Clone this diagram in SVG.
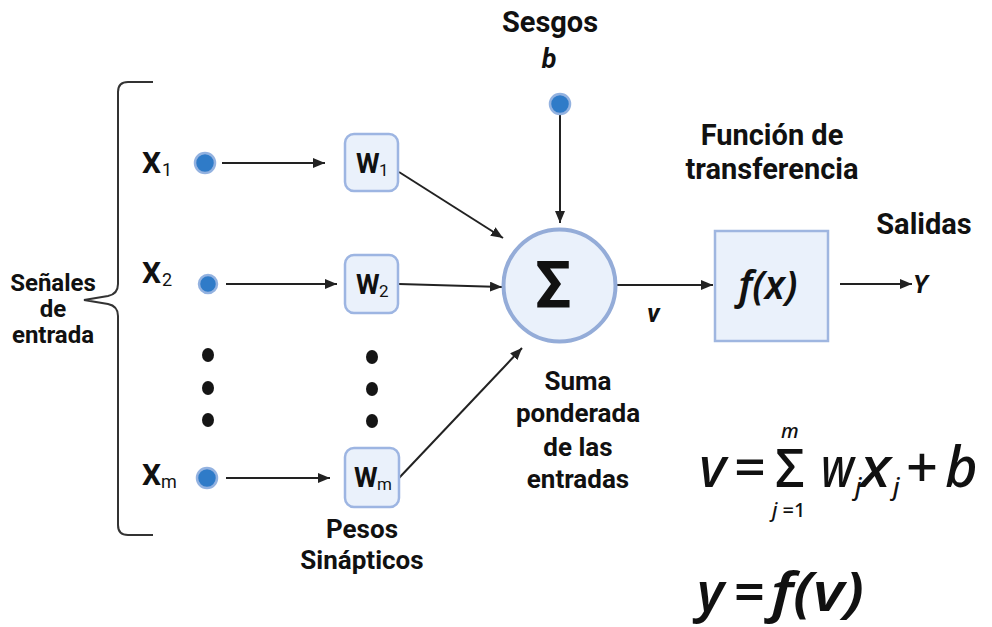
<svg xmlns="http://www.w3.org/2000/svg" width="992" height="627" viewBox="0 0 992 627">
<style>
.lbl{font-family:Roboto,"Liberation Sans",sans-serif;font-weight:700;fill:#111}
.sub{font-family:Roboto,"Liberation Sans",sans-serif;font-weight:400;fill:#111}
.math{font-family:"Noto Sans","Open Sans","DejaVu Sans",sans-serif;font-style:italic;font-weight:500;fill:#111}
.heavy{font-family:"Noto Sans","Open Sans","DejaVu Sans",sans-serif;font-style:italic;font-weight:600;fill:#111}
.up{font-style:normal}
.box{fill:#eaf1fb;stroke:#9db5e2;stroke-width:2.5}
.inp{fill:#2f7bc8;stroke:#93b2e0;stroke-width:2.5}
.dot{fill:#151515}
.con{stroke:#222;stroke-width:2;fill:none}
</style>
<defs>
<marker id="ah" viewBox="0 0 12 10" refX="12" refY="5" markerWidth="12" markerHeight="10" markerUnits="userSpaceOnUse" orient="auto">
<path d="M0,0 L12,5 L0,10 z" fill="#222"/>
</marker>
</defs>
<rect width="992" height="627" fill="#fff"/>

<g id="brace">
<path d="M153,82 L128,82 Q118,82 118,92 L118,284 Q118,294 108,296 L84,300 L108,304 Q118,306 118,316 L118,525 Q118,535 128,535 L153,535" fill="none" stroke="#333" stroke-width="2"/>
<text class="lbl" font-size="24" text-anchor="middle" x="53" y="291">Señales</text>
<text class="lbl" font-size="24" text-anchor="middle" x="53" y="317">de</text>
<text class="lbl" font-size="24" text-anchor="middle" x="53" y="343">entrada</text>
</g>

<g id="connectors">
<line class="con" x1="222" y1="163" x2="325" y2="163" marker-end="url(#ah)"/>
<line class="con" x1="226" y1="284" x2="337" y2="284" marker-end="url(#ah)"/>
<line class="con" x1="226" y1="478" x2="330" y2="478" marker-end="url(#ah)"/>
<line class="con" x1="399" y1="172" x2="503" y2="238" marker-end="url(#ah)"/>
<line class="con" x1="399" y1="284" x2="502" y2="287" marker-end="url(#ah)"/>
<line class="con" x1="399" y1="478" x2="522" y2="348" marker-end="url(#ah)"/>
<line class="con" x1="560" y1="114" x2="560" y2="223" marker-end="url(#ah)"/>
<line class="con" x1="617" y1="285" x2="713" y2="285" marker-end="url(#ah)"/>
<line class="con" x1="840" y1="284" x2="912" y2="284" marker-end="url(#ah)"/>
</g>

<g id="input-x1">
<text class="lbl" font-size="30" x="142" y="173">X</text><text class="sub" font-size="18" x="162" y="176">1</text>
<circle class="inp" cx="205" cy="163" r="10"/>
</g>
<g id="input-x2">
<text class="lbl" font-size="30" x="142" y="283">X</text><text class="sub" font-size="18" x="162" y="286">2</text>
<circle class="inp" cx="208" cy="284" r="9"/>
</g>
<g id="input-xm">
<text class="lbl" font-size="30" x="142" y="485">X</text><text class="sub" font-size="18" x="161" y="488">m</text>
<circle class="inp" cx="207" cy="478" r="10"/>
</g>
<g id="input-dots">
<ellipse class="dot" cx="208" cy="355" rx="6" ry="7"/>
<ellipse class="dot" cx="208" cy="388" rx="6" ry="7"/>
<ellipse class="dot" cx="208" cy="420" rx="6" ry="7"/>
</g>

<g id="w1">
<rect class="box" x="345" y="134" width="53" height="57" rx="9"/>
<text class="lbl" font-size="27" x="356" y="173">W</text><text class="sub" font-size="17" x="379" y="176">1</text>
</g>
<g id="w2">
<rect class="box" x="345" y="255" width="53" height="58" rx="9"/>
<text class="lbl" font-size="27" x="356" y="294">W</text><text class="sub" font-size="17" x="379" y="297">2</text>
</g>
<g id="wm">
<rect class="box" x="345" y="448" width="54" height="59" rx="9"/>
<text class="lbl" font-size="27" x="354" y="487">W</text><text class="sub" font-size="17" x="377" y="490">m</text>
</g>
<g id="w-dots">
<ellipse class="dot" cx="372" cy="357" rx="6" ry="7"/>
<ellipse class="dot" cx="372" cy="389" rx="6" ry="7"/>
<ellipse class="dot" cx="372" cy="421" rx="6" ry="7"/>
</g>
<g id="pesos-label">
<text class="lbl" font-size="26" text-anchor="middle" x="362" y="538">Pesos</text>
<text class="lbl" font-size="26" text-anchor="middle" x="362" y="569">Sinápticos</text>
</g>

<g id="bias">
<text class="lbl" font-size="29" text-anchor="middle" x="550" y="32">Sesgos</text>
<text class="lbl" font-size="27" font-style="italic" text-anchor="middle" x="549" y="68">b</text>
<circle class="inp" cx="560" cy="104" r="10"/>
</g>

<g id="sum">
<circle cx="559.5" cy="285.5" r="56" fill="#eaf1fb" stroke="#94acd8" stroke-width="4"/>
<text class="lbl" font-size="64" text-anchor="middle" x="553" y="307">Σ</text>
<text class="lbl" font-size="26" font-style="italic" x="647" y="322">v</text>
<text class="lbl" font-size="26" text-anchor="middle" x="578" y="390">Suma</text>
<text class="lbl" font-size="26" text-anchor="middle" x="578" y="422">ponderada</text>
<text class="lbl" font-size="26" text-anchor="middle" x="578" y="456">de las</text>
<text class="lbl" font-size="26" text-anchor="middle" x="578" y="488">entradas</text>
</g>

<g id="transfer">
<text class="lbl" font-size="29" text-anchor="middle" x="772" y="145">Función de</text>
<text class="lbl" font-size="29" text-anchor="middle" x="772" y="179">transferencia</text>
<rect x="715" y="231" width="113" height="110" fill="#eaf1fb" stroke="#9fb6e0" stroke-width="2.5"/>
<text class="heavy" font-size="39" text-anchor="middle" x="768" y="299">f(x)</text>
</g>

<g id="output">
<text class="lbl" font-size="29" text-anchor="middle" x="924" y="234">Salidas</text>
<text class="lbl" font-size="25" font-style="italic" x="913" y="293">Y</text>
</g>

<g id="formula-v">
<text class="math" font-size="56" x="699" y="487">v</text>
<text class="math up" font-size="56" font-weight="700" x="734" y="487">=</text>
<text class="math up" font-size="52" x="775" y="487">Σ</text>
<text class="math" font-size="20" x="781" y="438">m</text>
<text class="math" font-size="20" x="772" y="517">j<tspan class="up"> =1</tspan></text>
<text class="math" font-size="56" font-weight="700" x="821" y="487" textLength="33" lengthAdjust="spacingAndGlyphs">w</text>
<text class="math" font-size="24" x="855" y="495">j</text>
<text class="math" font-size="56" x="860" y="487" textLength="31" lengthAdjust="spacingAndGlyphs">x</text>
<text class="math" font-size="24" x="893" y="495">j</text>
<text class="math up" font-size="56" font-weight="700" x="906" y="487">+</text>
<text class="math" font-size="56" x="945" y="487">b</text>
</g>
<g id="formula-y">
<text class="heavy" font-size="54" x="697" y="611">y</text>
<text class="heavy up" font-size="54" x="734" y="611">=</text>
<text class="heavy" font-size="54" x="771" y="611" textLength="93" lengthAdjust="spacingAndGlyphs">f(v)</text>
</g>
</svg>
